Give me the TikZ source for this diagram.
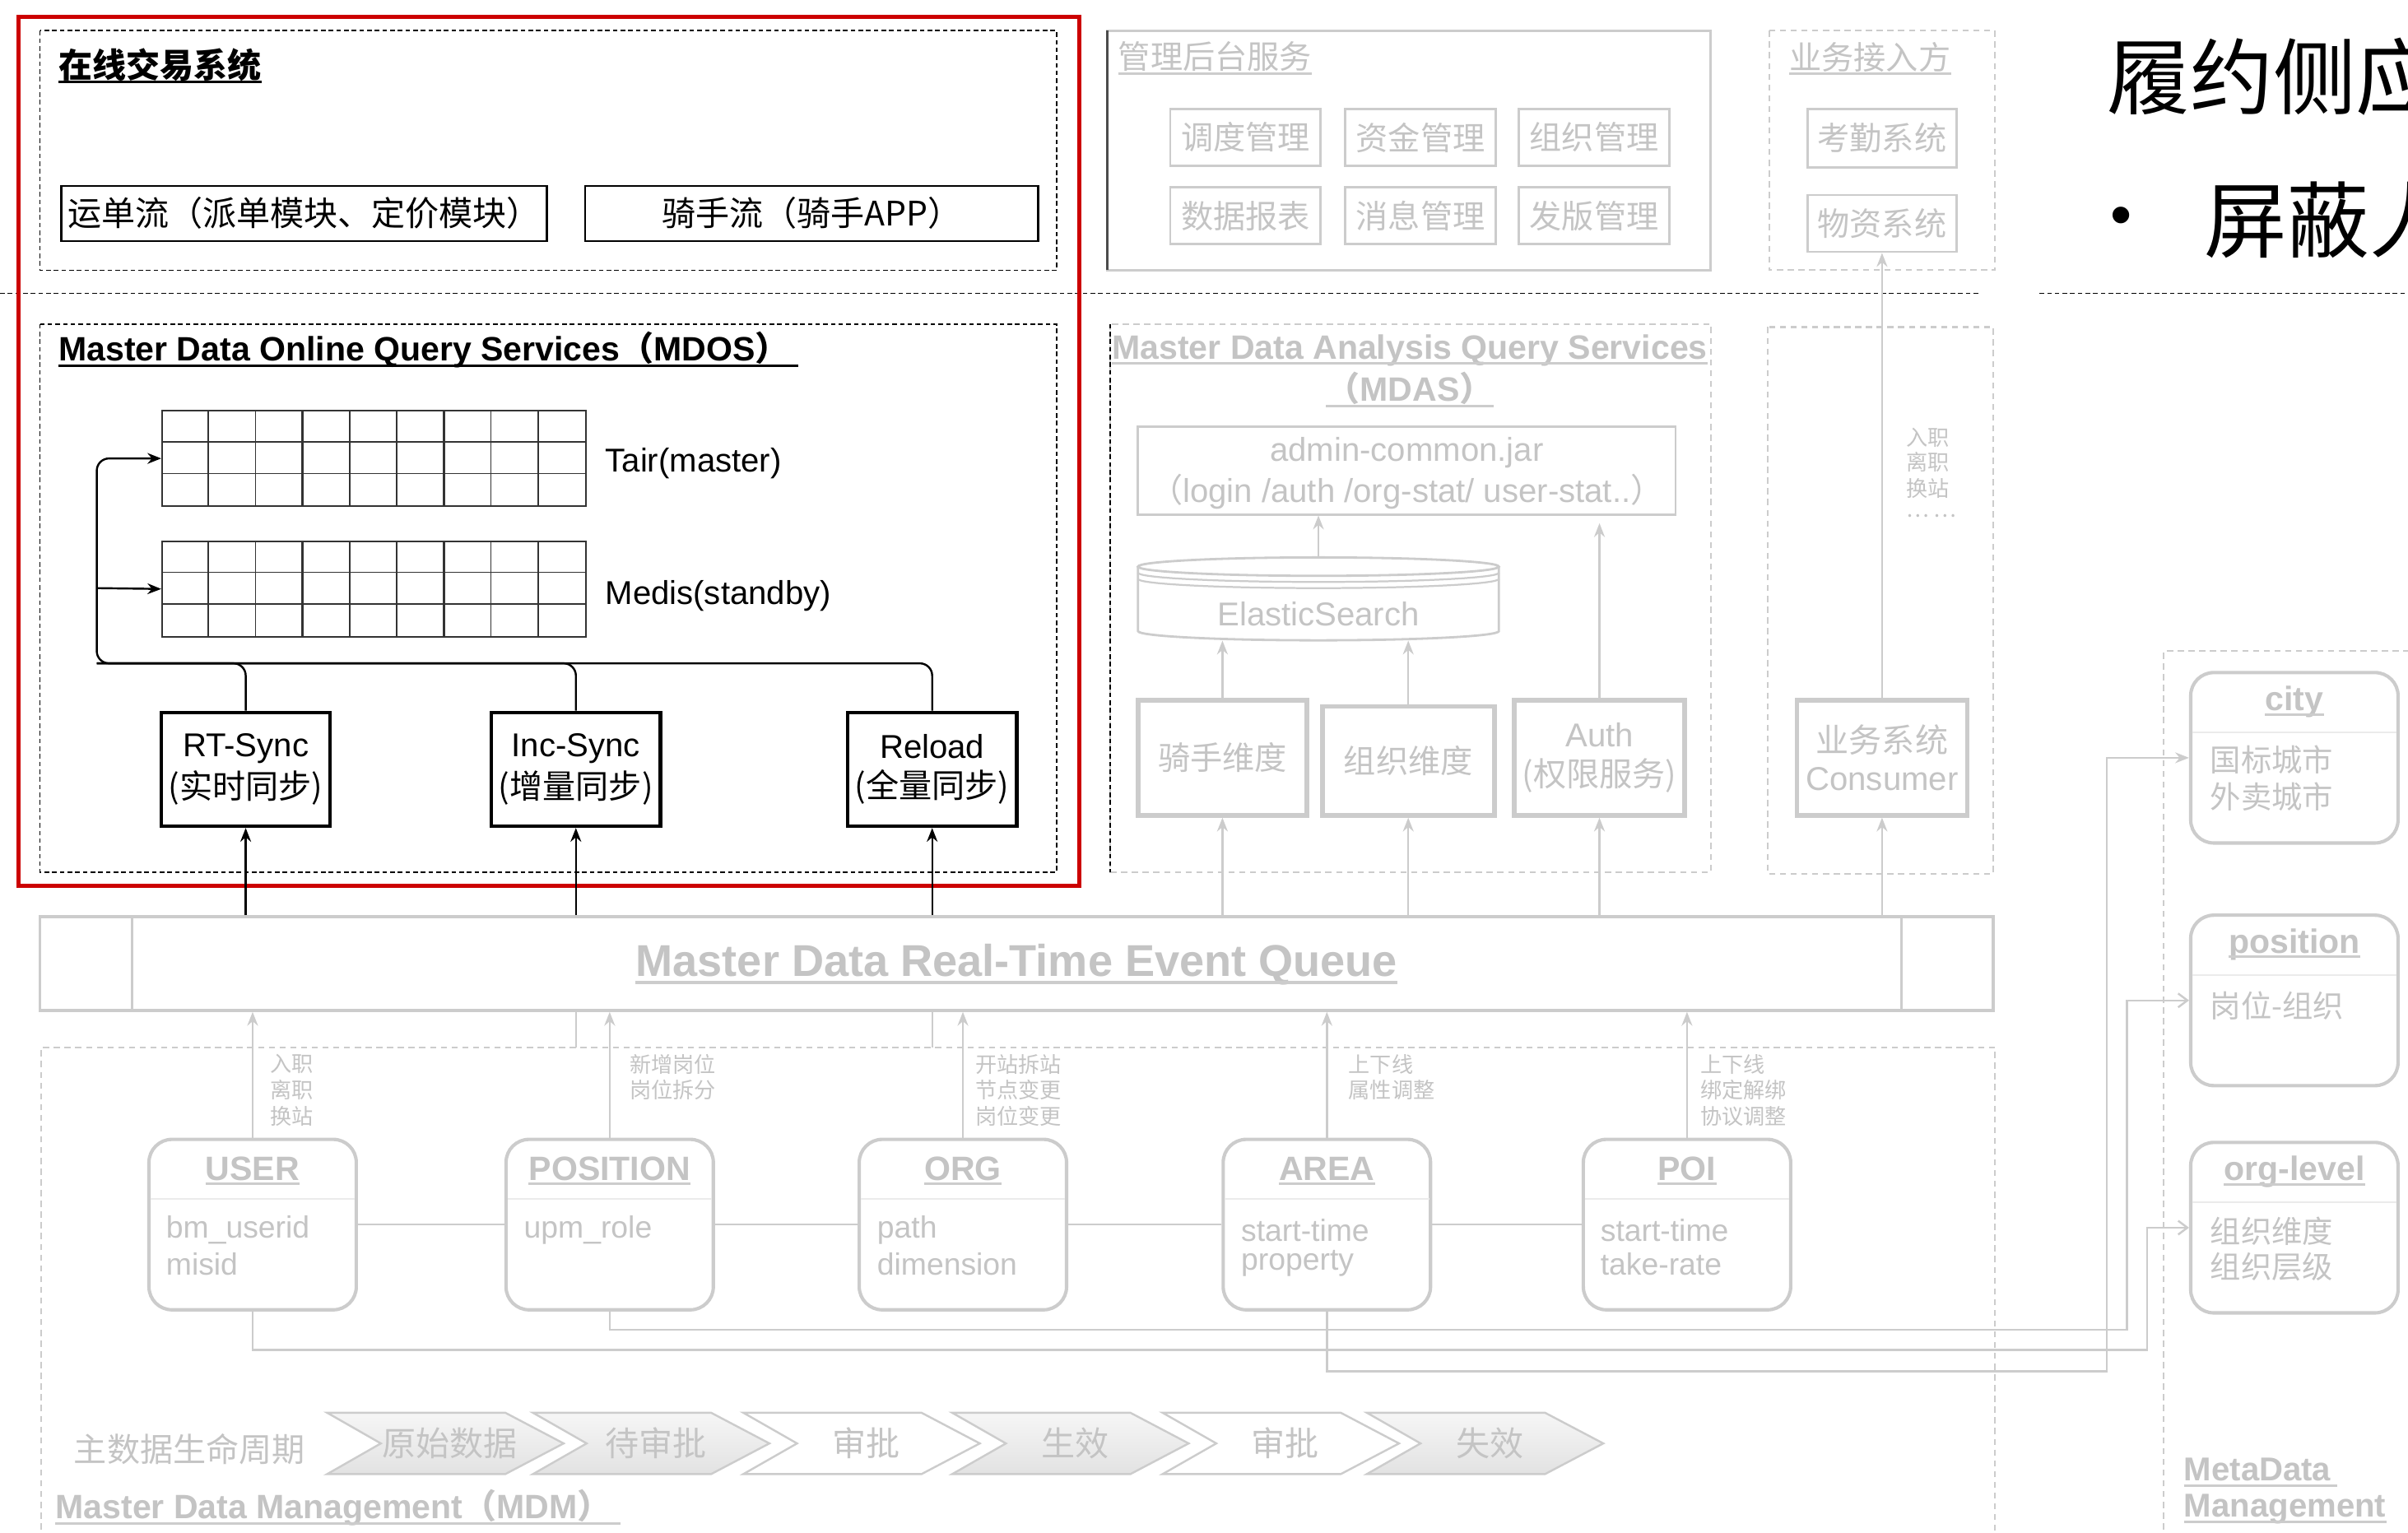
\documentclass[tikz,border=0pt]{standalone}
\usepackage{fontspec}
\setmainfont{Liberation Sans}
\newfontfamily\cjk{Noto Sans CJK SC}
\usetikzlibrary{arrows.meta,calc}
\definecolor{lg}{RGB}{204,204,204}
\definecolor{tg}{RGB}{196,196,196}
\definecolor{myred}{RGB}{204,0,0}
\definecolor{chevt}{RGB}{246,246,246}
\definecolor{chevb}{RGB}{226,226,226}
\newcommand\fs[1]{\fontsize{#1}{#1}\selectfont}
\tikzset{
  bk/.style={draw=black, line width=1.3pt},
  bka/.style={bk, -{Stealth[length=9pt,width=7pt]}},
  gl/.style={draw=lg, line width=1.3pt},
  gla/.style={gl, -{Stealth[length=9pt,width=7pt]}},
  glo/.style={gl, -{Straight Barb[length=6pt,width=9pt]}},
  bkdash/.style={draw=black, line width=0.9pt, dash pattern=on 3pt off 2pt},
  gldash/.style={draw=lg, line width=1.1pt, dash pattern=on 4pt off 3pt},
  txt/.style={inner sep=0pt},
  gtxt/.style={inner sep=0pt, text=tg},
  bbox/.style={draw=black, line width=1.3pt, inner sep=0pt},
  syncbox/.style={draw=black, line width=2.4pt, minimum width=110pt, minimum height=74pt, inner sep=0pt, align=center},
  gbox/.style={draw=lg, line width=1.5pt, inner sep=0pt, text=tg, align=center},
  dimbox/.style={draw=lg, line width=3pt, inner sep=0pt, text=tg, align=center},
  ent/.style={draw=lg, line width=2.2pt, rounded corners=15pt, minimum width=135pt, minimum height=111pt, inner sep=0pt},
  etitle/.style={inner sep=0pt, text=tg, font=\bfseries\fs{22}},
  eattr/.style={inner sep=0pt, text=tg, anchor=west, font=\fs{20}},
  lbl/.style={inner sep=0pt, text=tg, anchor=west, font=\cjk\fs{14}},
  gridln/.style={draw=black!80, line width=0.8pt},
  cfill/.style={top color=chevt, bottom color=chevb},
  cnone/.style={fill=white},
  ulb/.style={draw=black, line width=1.4pt},
  ulg/.style={draw=lg, line width=1.6pt},
}
\newcommand\chev[4]{%
  \draw[draw=lg, line width=1.3pt, #2] (#1,920) -- (#1+116,920) -- (#1+154,940) -- (#1+116,960) -- (#1,960) -- (#1+35,940) -- cycle;
  \node[gtxt, font=\cjk\fs{22}] (#4) at (#1+80,940) {#3};
}
\newcommand\entity[4]{% name, cx, top, title
  \node[ent] (#1) at (#2,#3+55.5) {};
  \node[etitle] (#1t) at (#2,#3+19) {#4};
  \draw[ulg] ([yshift=-2.5pt]#1t.base west) -- ([yshift=-2.5pt]#1t.base east);
  \draw[draw=lg!40, line width=1pt] ($(#1.north west)+(2,40)$) -- ($(#1.north east)+(-2,40)$);
}
\newcommand\grid[1]{%
  \foreach \i in {1,...,8} {
    \draw[gridln] ($(#1.north west)+(\i*30.667,0)$) -- ($(#1.south west)+(\i*30.667,0)$);
  }
  \foreach \i in {3,6} {
    \draw[gridln, line width=1.3pt] ($(#1.north west)+(\i*30.667,0)$) -- ($(#1.south west)+(\i*30.667,0)$);
  }
  \draw[gridln] ($(#1.north west)+(0,20.667)$) -- ($(#1.north east)+(0,20.667)$);
  \draw[gridln] ($(#1.north west)+(0,41.333)$) -- ($(#1.north east)+(0,41.333)$);
}
\begin{document}
\begin{tikzpicture}[x=1pt,y=-1pt, font=\fs{21.5}]
\useasboundingbox (0,0) rectangle (1568,998);
\fill[white] (0,0) rectangle (1568,998);
\clip (0,0) rectangle (1568,998);

% ===== separator line =====
\draw[bkdash] (0,191) -- (1289,191);
\draw[bkdash] (1328,191) -- (1568,191);

% ===== online trading system =====
\draw[bkdash] (26,20) rectangle (688,176);
\node[txt, anchor=west, font=\cjk\bfseries\fs{22}] (t1) at (38,42) {在线交易系统};
\draw[ulb] ([yshift=-3pt]t1.base west) -- ([yshift=-3pt]t1.base east);
\node[bbox, minimum width=316pt, minimum height=36pt, font=\cjk\fs{22}] (yd) at (198,139) {运单流（派单模块、定价模块）};
\node[bbox, minimum width=295pt, minimum height=36pt, font=\cjk\fs{22}] (qs) at (528.5,139) {骑手流（骑手APP）};

% ===== MDOS =====
\draw[bkdash] (26,211) rectangle (688,568);
\node[txt, anchor=west, font=\bfseries\fs{22}] (t2) at (38,228) {Master Data Online Query Services{\cjk（}MDOS{\cjk）}};
\draw[ulb] ([yshift=-3pt]t2.base west) -- ([yshift=-3pt,xshift=6pt]t2.base east);
\node[draw=black!80, line width=1.1pt, minimum width=276pt, minimum height=62pt, inner sep=0pt, anchor=north west] (tair) at (105,267) {};
\grid{tair}
\node[draw=black!80, line width=1.1pt, minimum width=276pt, minimum height=62pt, inner sep=0pt, anchor=north west] (medis) at (105,352) {};
\grid{medis}
\node[txt, anchor=west] (tairl) at (394,302) {Tair(master)};
\node[txt, anchor=west] (medisl) at (394,388) {Medis(standby)};
\node[syncbox] (rt) at (160,501) {RT-Sync\\[4pt]{\cjk(实时同步)}};
\node[syncbox] (inc) at (375,501) {Inc-Sync\\[4pt]{\cjk(增量同步)}};
\node[syncbox] (rel) at (607,501) {Reload\\[4pt]{\cjk(全量同步)}};
\coordinate (busL) at (63,432);
\coordinate (medisJ) at (63,383);
\draw[bka, rounded corners=8pt] (rt.north) |- (busL) |- (tair.west);
\draw[bk, rounded corners=8pt] (inc.north) |- (busL);
\draw[bk, rounded corners=8pt] (rel.north) |- (busL);
\draw[bka] (medisJ) -- (medis.west);

% red frame
\draw[myred, line width=2.6pt] (12,11) rectangle (703,577);

% ===== queue =====
\node[draw=lg, line width=2pt, minimum width=1272pt, minimum height=61pt, inner sep=0pt] (queue) at (662,627.5) {};
\draw[draw=lg, line width=1.6pt] (86,597) -- (86,658);
\draw[draw=lg, line width=1.6pt] (1238,597) -- (1238,658);
\node[gtxt, font=\bfseries\fs{29}] (qt) at (662,628) {Master Data Real-Time Event Queue};
\draw[ulg, line width=2pt] ([yshift=-4pt]qt.base west) -- ([yshift=-4pt]qt.base east);
\draw[bka] (queue.north -| rt) -- (rt.south);
\draw[bka] (queue.north -| inc) -- (inc.south);
\draw[bka] (queue.north -| rel) -- (rel.south);

% ===== management backend =====
\draw[draw=lg, line width=1.5pt] (721,20) rectangle (1114,176);
\draw[draw=black!70, line width=1.2pt] (721,20) -- (721,176);
\node[gtxt, anchor=west, font=\cjk\fs{21}] (t3) at (728,37) {管理后台服务};
\draw[ulg] ([yshift=-3pt]t3.base west) -- ([yshift=-3pt]t3.base east);
\begin{scope}[every node/.style={gbox, minimum width=98pt, minimum height=37pt, font=\cjk\fs{21}}]
\node (m1) at (811,89.5) {调度管理};
\node (m2) at (925,89.5) {资金管理};
\node (m3) at (1038,89.5) {组织管理};
\node (m4) at (811,140.5) {数据报表};
\node (m5) at (925,140.5) {消息管理};
\node (m6) at (1038,140.5) {发版管理};
\end{scope}

% ===== business access =====
\draw[gldash] (1152,20) rectangle (1299,176);
\node[gtxt, anchor=west, font=\cjk\fs{21}] (t4) at (1165,37) {业务接入方};
\draw[ulg] ([yshift=-3pt]t4.base west) -- ([yshift=-3pt]t4.base east);
\node[gbox, minimum width=97pt, minimum height=38pt, font=\cjk\fs{21}] (kq) at (1225.5,90) {考勤系统};
\node[gbox, minimum width=97pt, minimum height=37pt, font=\cjk\fs{21}] (wz) at (1225.5,145.5) {物资系统};

% ===== big title =====
\node[txt, anchor=west, font=\cjk\fs{54}] (big1) at (1372,50) {履约侧应};
\node[txt, font=\fs{40}] (bul) at (1381,144) {•};
\node[txt, anchor=west, font=\cjk\fs{54}] (big2) at (1435,143) {屏蔽人};

% ===== MDAS =====
\draw[gldash] (723,211) rectangle (1114,568);
\draw[bkdash, line width=0.9pt] (723,211) -- (723,568);
\node[gtxt, font=\bfseries\fs{22}] (t5) at (918,228) {Master Data Analysis Query Services};
\node[gtxt, font=\bfseries\fs{22}] (t5b) at (918,253) {{\cjk（}MDAS{\cjk）}};
\draw[ulg] ([yshift=-3pt]t5.base west) -- ([yshift=-3pt]t5.base east);
\draw[ulg] ([yshift=-3pt]t5b.base west) -- ([yshift=-3pt]t5b.base east);
\node[gbox, minimum width=350pt, minimum height=57pt] (adm) at (916,306.5) {};
\node[gtxt] (admt1) at (916,295) {admin-common.jar};
\node[gtxt] (admt2) at (916,320) {{\cjk（}login /auth /org-stat/ user-stat..{\cjk）}};
% ElasticSearch cylinder
\node[minimum width=235pt, minimum height=54pt, inner sep=0pt] (es) at (858.5,390) {};
\fill[white] (741,369) rectangle (976,411);
\draw[gl, line width=1.5pt] (741,369) -- (741,411) arc[start angle=180,end angle=360,x radius=117.5pt,y radius=6pt] -- (976,369);
\draw[gl, line width=1.5pt] (858.5,369) ellipse[x radius=117.5pt, y radius=6pt];
\draw[gl, line width=1.2pt] (741,373) arc[start angle=180,end angle=360,x radius=117.5pt,y radius=6pt];
\draw[gl, line width=1.2pt] (741,377) arc[start angle=180,end angle=360,x radius=117.5pt,y radius=6pt];
\node[gtxt] (est) at (858.5,400) {ElasticSearch};
\node[dimbox, minimum width=110pt, minimum height=75pt, font=\cjk\fs{21}] (rider) at (796,493.5) {骑手维度};
\node[dimbox, minimum width=112pt, minimum height=71pt, font=\cjk\fs{21}] (orgd) at (917,495.5) {组织维度};
\node[dimbox, minimum width=111pt, minimum height=75pt] (auth) at (1041.5,493.5) {Auth\\[4pt]{\cjk(权限服务)}};
\draw[gla] (es.north) -- (adm.south -| es.north);
\draw[gla] (auth.north) -- ($(auth.north |- adm.south)+(0,5)$);
\draw[gla] (rider.north) -- (rider.north |- es.south);
\draw[gla] (orgd.north) -- (orgd.north |- es.south);
\draw[gla] (queue.north -| rider) -- (rider.south);
\draw[gla] (queue.north -| orgd) -- (orgd.south);
\draw[gla] (queue.north -| auth) -- (auth.south);

% ===== consumer =====
\draw[gldash] (1151,213) rectangle (1298,569);
\node[dimbox, minimum width=111pt, minimum height=75pt] (cons) at (1225.5,493.5) {{\cjk 业务系统}\\[3pt]Consumer};
\draw[gla] (cons.north) -- (wz.south);
\draw[gla] (queue.north -| cons) -- (cons.south);
\node[lbl] (cl1) at (1241,285) {入职};
\node[lbl] (cl2) at (1241,301) {离职};
\node[lbl] (cl3) at (1241,318) {换站};
\node[lbl] (cl4) at (1241,336) {… …};

% ===== MDM =====
\coordinate (mdmtop) at (0,682);
\draw[gldash] (27,1010) -- (27,682) -- (1299,682) -- (1299,1010);
\draw[gl] (queue.south -| inc) -- (mdmtop -| inc);
\draw[gl] (queue.south -| rel) -- (mdmtop -| rel);

\entity{user}{164.5}{742}{USER}
\entity{pos}{397}{742}{POSITION}
\entity{org}{627}{742}{ORG}
\entity{area}{864}{742}{AREA}
\entity{poi}{1098.5}{742}{POI}
\node[eattr] (ua1) at (108,801) {bm\_userid};
\node[eattr] (ua2) at (108,823) {misid};
\node[eattr] (pa1) at (341,801) {upm\_role};
\node[eattr] (oa1) at (571,801) {path};
\node[eattr] (oa2) at (571,823) {dimension};
\node[eattr] (aa1) at (808,801) {start-time};
\node[eattr] (aa2) at (808,823) {property};
\node[eattr] (pe1) at (1042,801) {start-time};
\node[eattr] (pe2) at (1042,823) {take-rate};

\draw[gl] (user.east) -- (pos.west);
\draw[gl] (pos.east) -- (org.west);
\draw[gl] (org.east) -- (area.west);
\draw[gl] (area.east) -- (poi.west);

\draw[gla] (user.north) -- (user.north |- queue.south);
\draw[gla] (pos.north) -- (pos.north |- queue.south);
\draw[gla] (org.north) -- (org.north |- queue.south);
\draw[gla] (area.north) -- (area.north |- queue.south);
\draw[gla] (poi.north) -- (poi.north |- queue.south);

\node[lbl] (ul1) at (176,693) {入职};
\node[lbl] (ul2) at (176,710) {离职};
\node[lbl] (ul3) at (176,727) {换站};
\node[lbl] (pl1) at (410,693) {新增岗位};
\node[lbl] (pl2) at (410,710) {岗位拆分};
\node[lbl] (ol1) at (635,693) {开站拆站};
\node[lbl] (ol2) at (635,710) {节点变更};
\node[lbl] (ol3) at (635,727) {岗位变更};
\node[lbl] (al1) at (878,693) {上下线};
\node[lbl] (al2) at (878,710) {属性调整};
\node[lbl] (il1) at (1107,693) {上下线};
\node[lbl] (il2) at (1107,710) {绑定解绑};
\node[lbl] (il3) at (1107,727) {协议调整};

% lifecycle
\node[gtxt, anchor=west, font=\cjk\fs{21.5}] (life) at (48,944) {主数据生命周期};
\chev{213}{cfill}{原始数据}{c1}
\chev{347}{cfill}{待审批}{c2}
\chev{484}{cnone}{审批}{c3}
\chev{620}{cfill}{生效}{c4}
\chev{757}{cnone}{审批}{c5}
\chev{890}{cfill}{失效}{c6}

\node[gtxt, anchor=west, font=\bfseries\fs{22}] (t6) at (36,982) {Master Data Management{\cjk（}MDM{\cjk）}};
\draw[ulg] ([yshift=-3pt]t6.base west) -- ([yshift=-3pt,xshift=6pt]t6.base east);

% ===== MetaData =====
\draw[gldash] (1409,1010) -- (1409,424) -- (1600,424);
\entity{city}{1494}{438}{city}
\entity{mpos}{1494}{596}{position}
\entity{olev}{1494}{744}{org-level}
\node[eattr, font=\cjk\fs{20}] (ct1) at (1439,495) {国标城市};
\node[eattr, font=\cjk\fs{20}] (ct2) at (1439,519) {外卖城市};
\node[eattr, font=\cjk\fs{20}] (mp1) at (1439,655) {岗位-组织};
\node[eattr, font=\cjk\fs{20}] (ov1) at (1439,802) {组织维度};
\node[eattr, font=\cjk\fs{20}] (ov2) at (1439,825) {组织层级};
\node[gtxt, anchor=west, font=\bfseries\fs{21.5}] (t7) at (1422,957) {MetaData};
\draw[ulg] ([yshift=-3pt]t7.base west) -- ([yshift=-3pt,xshift=4pt]t7.base east);
\node[gtxt, anchor=west, font=\bfseries\fs{21.5}] (t8) at (1422,983) {Management};
\draw[ulg] ([yshift=-3pt]t8.base west) -- ([yshift=-3pt]t8.base east);

\draw[glo] (pos.south) |- (1385,866) |- (mpos.west);
\draw[glo] (user.south) |- (1398,879) |- (olev.west);
\draw[gla] (area.south) |- (1372,893) |- (city.west);
\end{tikzpicture}
\end{document}
